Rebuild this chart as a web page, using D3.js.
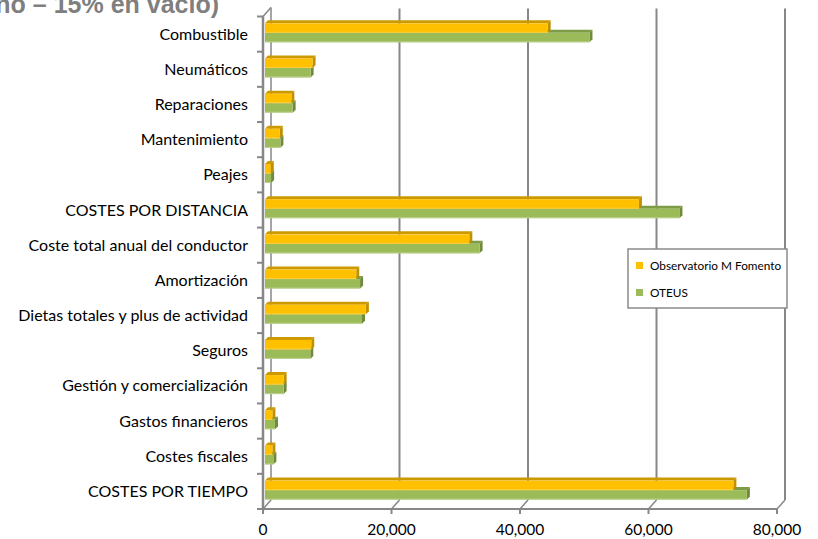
<!DOCTYPE html>
<html lang="es">
<head>
<meta charset="utf-8">
<title>Costes de explotación</title>
<script src="https://cdn.jsdelivr.net/npm/d3@7/dist/d3.min.js"></script>
<style>
  html, body { margin: 0; padding: 0; background: #fff; }
  svg { display: block; }
  .cat { font-family: Lato, "Open Sans", sans-serif; font-size: 16px; fill: #000; }
  .tick-label { font-family: Lato, "Open Sans", sans-serif; font-size: 15.5px; fill: #000; }
  .legend-text { font-family: Lato, "Open Sans", sans-serif; font-size: 11.8px; fill: #000; }
</style>
</head>
<body>
<svg id="chart" width="818" height="539"></svg>
<script>
// Cost items, top to bottom
const categories = [
  "Combustible",
  "Neumáticos",
  "Reparaciones",
  "Mantenimiento",
  "Peajes",
  "COSTES POR DISTANCIA",
  "Coste total anual del conductor",
  "Amortización",
  "Dietas totales y plus de actividad",
  "Seguros ",
  "Gestión y comercialización",
  "Gastos financieros",
  "Costes fiscales",
  "COSTES POR TIEMPO"
];

// Annual cost (€) per source
const fomento = [44000, 7400, 4100, 2300, 900, 58200, 31800, 14200, 15700, 7200, 2900, 1150, 1150, 72900];
const oteus   = [50500, 7100, 4300, 2400, 950, 64500, 33400, 14800, 15100, 7050, 2900, 1550, 1300, 75000];

const seriesNames = ["Observatorio M Fomento", "OTEUS"];
const tickValues = [0, 20000, 40000, 60000, 80000];

const svg = d3.select("#chart");

// Oblique depth of the plot box
const DEPTH_X = 8, DEPTH_Y = -9;
// Depth of a single bar
const BAR_DX = 3, BAR_DY = -3;

const xFront = d3.scaleLinear().domain([0, 80000]).range([263, 777]);
const xBar = d3.scaleLinear().domain([0, 80000]).range([265, 779]);
const y = d3.scaleBand().domain(categories).range([16.5, 509]);

const gridColor = "#878787";

// Title (runs off the left edge of the page)
svg.append("text")
  .attr("x", 219).attr("y", 13)
  .attr("text-anchor", "end")
  .attr("font-family", "'Liberation Sans', Arial, sans-serif")
  .attr("font-weight", "bold")
  .attr("font-size", 25)
  .attr("fill", "#7f7f7f")
  .text("(85% lleno – 15% en vacío)");

// Back-wall gridlines
const grid = svg.append("g");
tickValues.forEach((v, i) => {
  const xb = xFront(v) + DEPTH_X;
  const topY = 16.5 + DEPTH_Y;
  const botY = 509 + DEPTH_Y;
  grid.append("line")
    .attr("x1", xb).attr("x2", xb)
    .attr("y1", i === 0 ? topY : topY + 1).attr("y2", botY)
    .attr("stroke", gridColor).attr("stroke-width", i === 0 ? 1.5 : 2);
  // floor depth lines
  grid.append("line")
    .attr("x1", xFront(v)).attr("y1", 509)
    .attr("x2", xb).attr("y2", botY)
    .attr("stroke", gridColor).attr("stroke-width", 1.5);
});

// Left wall front edge and floor front edge
svg.append("line")
  .attr("x1", xFront(0)).attr("x2", xFront(0))
  .attr("y1", 16.5).attr("y2", 509)
  .attr("stroke", gridColor).attr("stroke-width", 2.5);
svg.append("line")
  .attr("x1", xFront(0)).attr("y1", 16.5)
  .attr("x2", xFront(0) + DEPTH_X).attr("y2", 16.5 + DEPTH_Y)
  .attr("stroke", gridColor).attr("stroke-width", 1.5);
svg.append("line")
  .attr("x1", xFront(0) - 1).attr("x2", xFront(80000))
  .attr("y1", 509).attr("y2", 509)
  .attr("stroke", gridColor).attr("stroke-width", 2);

// Category ticks on the left edge
const bounds = y.domain().map(c => y(c)).concat([509]);
svg.append("g").selectAll("line")
  .data(bounds)
  .join("line")
  .attr("x1", xFront(0) - 6).attr("x2", xFront(0))
  .attr("y1", d => d).attr("y2", d => d)
  .attr("stroke", gridColor).attr("stroke-width", 2);

// Value ticks under the floor
svg.append("g").selectAll("line")
  .data(tickValues)
  .join("line")
  .attr("x1", d => xFront(d)).attr("x2", d => xFront(d))
  .attr("y1", 509).attr("y2", 514)
  .attr("stroke", gridColor).attr("stroke-width", 2);

// Bars with top and end faces
const palette = [
  { front: "#FFC000", top: "#CC9A00", side: "#C09000", edge: "#FFD24D" },
  { front: "#9BBB59", top: "#7E9C45", side: "#71893B", edge: "#C3D69B" }
];
const barH = 9.5;
const barOffset = 6.8;

function drawBar(g, value, top, col) {
  const x0 = xBar(0), x1 = xBar(value);
  const y0 = top, y1 = top + barH;
  // top face
  g.append("path")
    .attr("d", `M${x0},${y0} L${x0 + BAR_DX},${y0 + BAR_DY} L${x1 + BAR_DX},${y0 + BAR_DY} L${x1},${y0} Z`)
    .attr("fill", col.top);
  // end face
  g.append("path")
    .attr("d", `M${x1},${y0} L${x1 + BAR_DX},${y0 + BAR_DY} L${x1 + BAR_DX},${y1 + BAR_DY} L${x1},${y1} Z`)
    .attr("fill", col.side);
  // front face
  g.append("rect")
    .attr("x", x0).attr("y", y0)
    .attr("width", x1 - x0).attr("height", barH)
    .attr("fill", col.front);
  // soft lower edge
  g.append("rect")
    .attr("x", x0).attr("y", y1 - 1)
    .attr("width", x1 - x0).attr("height", 1)
    .attr("fill", col.edge).attr("opacity", 0.8);
}

const bars = svg.append("g");
categories.forEach((c, i) => {
  const t = y(c) + barOffset;
  const g = bars.append("g");
  drawBar(g, oteus[i], t + barH, palette[1]);
  drawBar(g, fomento[i], t, palette[0]);
});

// Category labels
svg.append("g").selectAll("text")
  .data(categories)
  .join("text")
  .attr("class", "cat")
  .attr("x", 248)
  .attr("y", d => y(d) + y.bandwidth() / 2)
  .attr("dy", "0.35em")
  .attr("text-anchor", "end")
  .text(d => d);

// Value tick labels
const fmt = d3.format(",");
svg.append("g").selectAll("text")
  .data(tickValues)
  .join("text")
  .attr("class", "tick-label")
  .attr("x", d => xFront(d))
  .attr("y", 535)
  .attr("text-anchor", "middle")
  .text(d => fmt(d));

// Legend
const legend = svg.append("g");
legend.append("rect")
  .attr("x", 628).attr("y", 249)
  .attr("width", 159).attr("height", 59)
  .attr("fill", "#fff")
  .attr("stroke", "#8a8a8a").attr("stroke-width", 1.5);
seriesNames.forEach((name, i) => {
  const cy = 266 + i * 27;
  legend.append("rect")
    .attr("x", 636).attr("y", cy - 4)
    .attr("width", 7).attr("height", 7)
    .attr("fill", palette[i].front);
  legend.append("text")
    .attr("class", "legend-text")
    .attr("x", 650).attr("y", cy)
    .attr("dy", "0.35em")
    .text(name);
});
</script>
</body>
</html>
